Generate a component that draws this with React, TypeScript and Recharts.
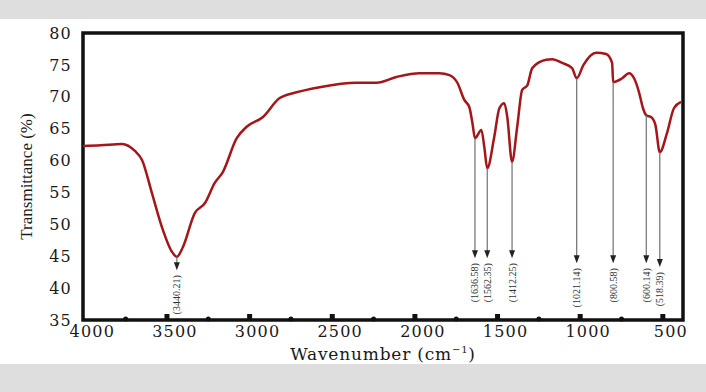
import {
  LineChart,
  Line,
  XAxis,
  YAxis,
  ReferenceArea,
  ReferenceLine,
  ReferenceDot,
} from "recharts";

// FTIR spectrum
const WAVENUMBER = [
  4008, 3900, 3772, 3694, 3651, 3591, 3531, 3470, 3440.21, 3404, 3331, 3271,
  3211, 3162, 3078, 3018, 2921, 2818, 2716, 2576, 2353, 2232, 2112, 1973, 1852,
  1791, 1743, 1701, 1671, 1652, 1636.58, 1598, 1580, 1562.35, 1520, 1489, 1459,
  1441, 1412.25, 1381, 1351, 1320, 1290, 1206, 1169, 1109, 1049, 1021.14, 980,
  904, 843, 807, 800.58, 746, 704, 674, 644, 620, 600.14, 570, 545, 518.39, 475,
  433, 390,
];
const TRANSMITTANCE = [
  62.3, 62.4, 62.6, 61.5, 60.1, 54.9, 49.6, 45.7, 44.9, 46.4, 51.8, 53.3, 56.5,
  58.2, 63.5, 65.3, 66.8, 69.8, 70.7, 71.5, 72.2, 72.2, 73.1, 73.7, 73.7, 73.4,
  72.2, 69.5, 68.4, 65.9, 63.5, 64.8, 62.1, 58.8, 63.7, 68.2, 69.0, 66.8, 59.8,
  65.3, 71.1, 71.8, 74.5, 75.8, 75.9, 75.3, 74.5, 72.9, 75.0, 76.9, 76.7, 75.3,
  72.3, 72.9, 73.7, 72.9, 70.7, 68.2, 67.1, 66.8, 65.6, 61.3, 64.3, 68.2, 69.2,
];

const PEAKS = [3440.21, 1636.58, 1562.35, 1412.25, 1021.14, 800.58, 600.14, 518.39];
const ARROW_TIP = [42.8, 44.7, 44.7, 44.7, 43.9, 43.9, 43.9, 43.3];

const X_TICKS = [4000, 3500, 3000, 2500, 2000, 1500, 1000, 500];
const MINOR_TICKS = [3750, 3500, 3250, 3000, 2750, 2500, 2250, 2000, 1750, 1500, 1250, 1000, 750, 500];
const Y_TICKS = [35, 40, 45, 50, 55, 60, 65, 70, 75, 80];

const spectrum = WAVENUMBER.map((wn, i) => ({ wn, t: TRANSMITTANCE[i] }));
const peakT = (p: number) => spectrum.find((d) => d.wn === p)!.t;

const SERIF = "'DejaVu Serif', serif";
const LABEL_SERIF = "'Liberation Serif', serif";

const XTick = ({ x, y, payload }: any) => (
  <text
    x={x + 8}
    y={y + 15}
    textAnchor="middle"
    fontFamily={SERIF}
    fontSize={16}
    letterSpacing={1.2}
    fill="#1a1a1a"
  >
    {payload.value}
  </text>
);

const XTitle = ({ viewBox }: any) => (
  <text
    x={viewBox.x + viewBox.width / 2}
    y={360}
    textAnchor="middle"
    fontFamily={SERIF}
    fontSize={17}
    letterSpacing={0.8}
    fill="#1a1a1a"
  >
    Wavenumber (cm
    <tspan fontSize={10} dy={-7}>
      −1
    </tspan>
    <tspan dy={7}>)</tspan>
  </text>
);

const YTitle = ({ viewBox }: any) => (
  <text
    transform={`translate(26, ${viewBox.y + viewBox.height / 2}) rotate(-90)`}
    textAnchor="middle"
    dominantBaseline="central"
    fontFamily={LABEL_SERIF}
    fontSize={17}
    fill="#1a1a1a"
  >
    Transmittance (%)
  </text>
);

const arrowShape = (label: string) => (props: any) => {
  const { x1, y1, x2, y2 } = props;
  return (
    <g>
      <line x1={x1} y1={y1} x2={x2} y2={y2 - 5} stroke="#707070" strokeWidth={1.2} />
      <polygon points={`${x2 - 3},${y2 - 8} ${x2 + 3},${y2 - 8} ${x2},${y2}`} fill="#222" />
      <text
        transform={`translate(${x2}, ${y2 + 5}) rotate(-90)`}
        textAnchor="end"
        dominantBaseline="central"
        fontFamily={LABEL_SERIF}
        fontSize={10}
        fill="#333"
      >
        {label}
      </text>
    </g>
  );
};

const knob = (major: boolean) => (props: any) => {
  const { cx, cy } = props;
  return major ? (
    <rect x={cx - 2.5} y={cy - 6} width={5} height={6} fill="#111" />
  ) : (
    <circle cx={cx} cy={cy - 1} r={2.5} fill="#111" />
  );
};

export default function App() {
  return (
    <div
      style={{
        position: "absolute",
        left: 0,
        top: 0,
        width: 706,
        height: 392,
        background: "#dedede",
      }}
    >
      <div
        style={{
          position: "absolute",
          left: 0,
          top: 19,
          width: 706,
          height: 345,
          background: "#fff",
        }}
      />
      <div style={{ position: "absolute", left: 0, top: 0 }}>
        <LineChart
          width={706}
          height={392}
          data={spectrum}
          margin={{ top: 33, right: 23, left: 0, bottom: 32 }}
        >
          <XAxis
            dataKey="wn"
            type="number"
            domain={[378, 4008]}
            reversed
            ticks={X_TICKS}
            axisLine={false}
            tickLine={false}
            tickSize={0}
            height={40}
            tick={<XTick />}
            label={<XTitle />}
          />
          <YAxis
            type="number"
            domain={[35, 80]}
            ticks={Y_TICKS}
            axisLine={false}
            tickLine={false}
            tickSize={0}
            tickMargin={11}
            width={83}
            tick={{ fontFamily: SERIF, fontSize: 16, letterSpacing: 1.2, fill: "#1a1a1a" }}
            label={<YTitle />}
          />
          <ReferenceArea
            x1={378}
            x2={4008}
            y1={35}
            y2={80}
            fill="none"
            stroke="#111"
            strokeWidth={3.5}
          />
          {MINOR_TICKS.map((w) => (
            <ReferenceDot
              key={w}
              x={w}
              y={35}
              shape={knob(w % 500 === 0)}
            />
          ))}
          <Line
            type="monotone"
            dataKey="t"
            stroke="#a3171b"
            strokeWidth={2.5}
            dot={false}
            isAnimationActive={false}
          />
          {PEAKS.map((p, i) => (
            <ReferenceLine
              key={p}
              segment={[
                { x: p, y: peakT(p) },
                { x: p, y: ARROW_TIP[i] },
              ]}
              shape={arrowShape(`(${p.toFixed(2)})`)}
            />
          ))}
        </LineChart>
      </div>
    </div>
  );
}
